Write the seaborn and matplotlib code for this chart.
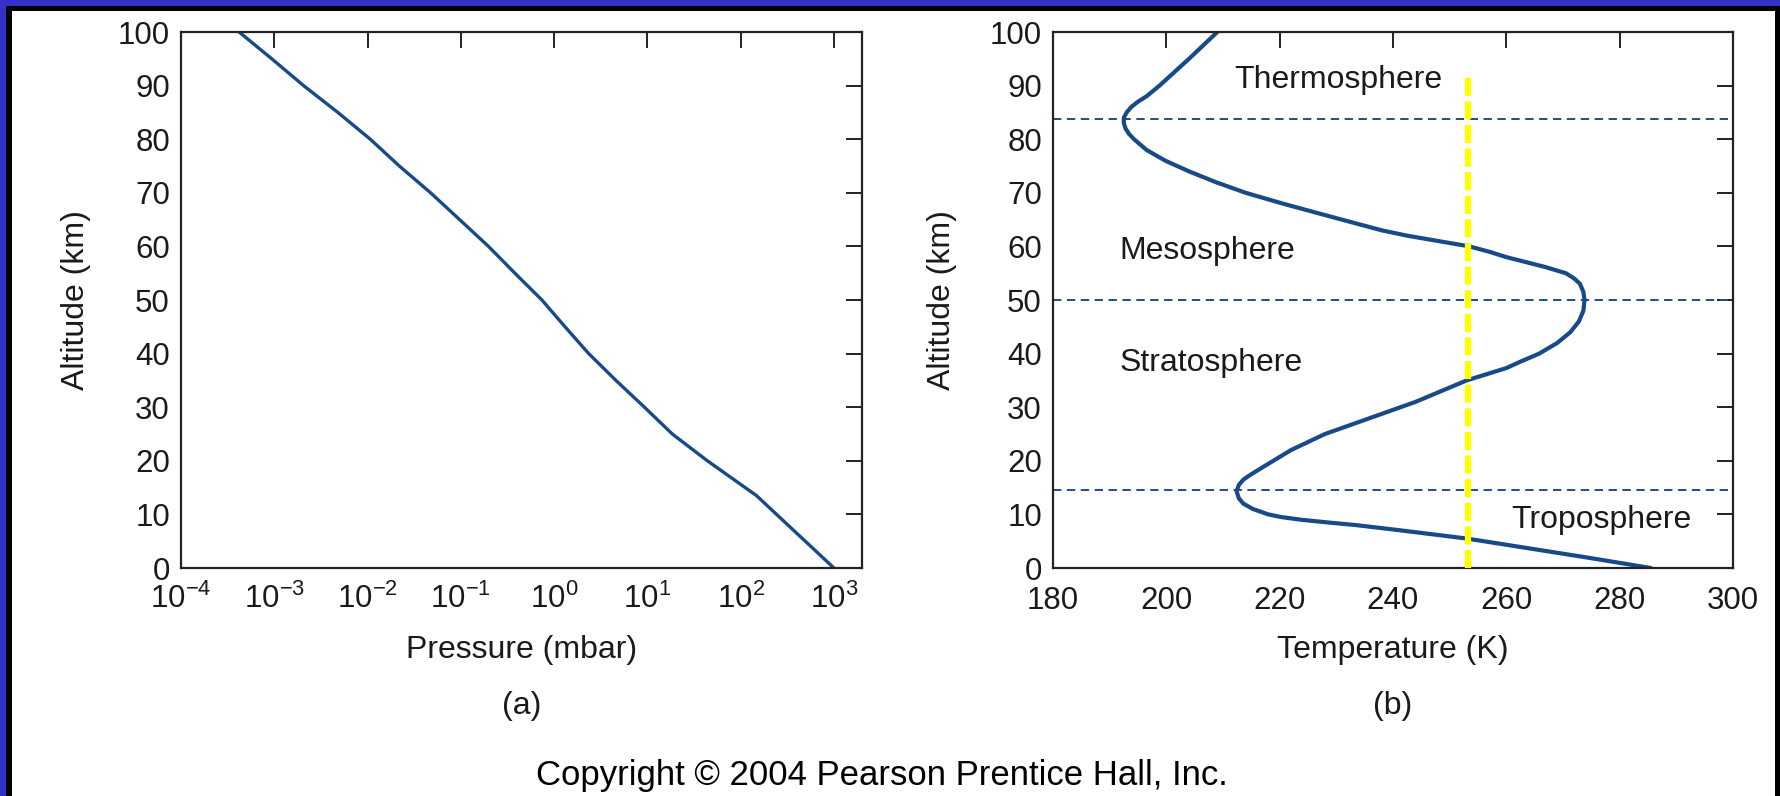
import matplotlib
matplotlib.use("Agg")
import matplotlib.pyplot as plt
import matplotlib.ticker as mticker
from matplotlib.patches import Rectangle
import seaborn as sns

# (a) pressure profile
press_alt = [0, 4, 8, 13.5, 20, 25, 30, 35, 40, 45, 50, 55, 60, 65, 70, 75,
             80, 85, 90, 95, 100]
press_mbar = [1000, 568, 322, 148, 44, 18.5, 9.3, 4.6, 2.35, 1.31, 0.74, 0.38,
              0.198, 0.097, 0.0474, 0.0219, 0.0107, 0.0048, 0.00206, 0.00094, 0.00042]

# (b) temperature profile
temp_alt = [0, 2, 4, 5.5, 7, 8, 8.5, 9, 9.5, 10, 11, 12, 13, 14.3, 15.5, 16.5, 17.5, 18.8,
            22, 25, 28, 31, 35, 37.3, 38.5, 40, 42, 44, 46, 48, 50, 51.5, 53, 54, 55, 56.2,
            58, 59, 60, 61, 62, 63, 65.5, 68, 70, 72, 74, 76, 78, 80, 81, 82, 83, 84, 85, 86,
            87, 88, 90, 95, 100]
temp_K = [285.5, 274, 262, 253, 241.5, 233.5, 228.5, 223.8, 220.3, 218, 215.3, 213.6, 212.8,
          212.4, 212.8, 213.6, 215, 217, 222, 228, 236, 244, 253, 260, 262.5, 265.8, 269,
          271.3, 272.8, 273.6, 273.8, 273.6, 273, 272, 270.5, 266.7, 260, 257, 253.5, 248,
          242.5, 238, 229.2, 220.5, 214, 208.7, 204, 199.8, 196.5, 194.3, 193.4, 192.8, 192.5,
          192.5, 193, 193.8, 195, 196.5, 198.8, 204, 209]

layer_names = ["Thermosphere", "Mesosphere", "Stratosphere", "Troposphere"]
layer_T = [212, 191.7, 191.7, 260.8]
layer_alt = [89.6, 57.6, 36.7, 7.4]
boundary_alts = [14.6, 50, 83.7]
yellow_T = 253.3
yellow_top = 92

pressure_ticks = [1e-4, 1e-3, 1e-2, 1e-1, 1e0, 1e1, 1e2, 1e3]
temp_ticks = [180, 200, 220, 240, 260, 280, 300]
alt_ticks = [0, 10, 20, 30, 40, 50, 60, 70, 80, 90, 100]

sns.set_style("white")
plt.rcParams["font.family"] = ["Liberation Sans", "DejaVu Sans"]
plt.rcParams["mathtext.fontset"] = "custom"
plt.rcParams["mathtext.rm"] = "Liberation Sans"
plt.rcParams["mathtext.it"] = "Liberation Sans"
plt.rcParams["mathtext.sf"] = "Liberation Sans"
plt.rcParams["lines.scale_dashes"] = False

W, H = 1780, 796
fig = plt.figure(figsize=(17.8, 7.96), dpi=100)
fig.patch.set_facecolor("white")

ax1 = fig.add_axes([181 / W, 1 - 568 / H, 681 / W, 536 / H])
ax2 = fig.add_axes([1053 / W, 1 - 568 / H, 680 / W, 536 / H])

curve = "#174a86"
text_c = "#1a1a1a"

sns.lineplot(x=press_mbar, y=press_alt, sort=False, estimator=None,
             color=curve, lw=2.4, ax=ax1)
ax1.set_xscale("log")
ax1.set_xlim(1e-4, 2000)
ax1.set_xticks(pressure_ticks)
ax1.xaxis.set_minor_locator(mticker.NullLocator())

sns.lineplot(x=temp_K, y=temp_alt, sort=False, estimator=None,
             color=curve, lw=3.0, ax=ax2)
ax2.set_xlim(180, 300)
ax2.set_xticks(temp_ticks)
for a in boundary_alts:
    ax2.axhline(a, color="#1f4e8c", lw=1.4, dashes=(6, 4), zorder=1)
ax2.vlines(yellow_T, 0, yellow_top, color="#ffff00", lw=4.5, linestyles=(0, (13, 4)), zorder=3)
for name, t, a in zip(layer_names, layer_T, layer_alt):
    ax2.text(t, a, name, ha="left", va="baseline", fontsize=23, color=text_c)

for ax, xpad, lab, lx, tag in [(ax1, 11, "Pressure (mbar)", -0.154, "(a)"),
                               (ax2, 13, "Temperature (K)", -0.163, "(b)")]:
    ax.set_ylim(0, 100)
    ax.set_yticks(alt_ticks)
    for s in ax.spines.values():
        s.set_color("#222222")
        s.set_linewidth(1.6)
    ax.tick_params(which="major", direction="in", length=11.5, width=1.4, color="#222222",
                   top=True, right=True, labelsize=22.5, labelcolor=text_c)
    ax.tick_params(axis="x", pad=xpad)
    ax.tick_params(axis="y", pad=8)
    ax.set_xlabel(lab, fontsize=23, color=text_c, va="center")
    ax.xaxis.set_label_coords(0.5, (568 - 650) / 536)
    ax.set_ylabel("Altitude (km)", fontsize=23, color=text_c, va="center")
    ax.yaxis.set_label_coords(lx, 0.5)
    ax.text(0.5, (568 - 706) / 536, tag, transform=ax.transAxes, ha="center", va="center",
            fontsize=23, color=text_c)

fig.text(882 / W, 1 - 776 / H, "Copyright \u00a9 2004 Pearson Prentice Hall, Inc.",
         ha="center", va="center", fontsize=25, color="black")

# slide frame: blue band top/left, black band inside it
blue = "#3232c8"
frame = [
    (0, H - 6, W, 6, blue),
    (0, 0, 6, H, blue),
    (6, H - 11, W - 6, 5, "black"),
    (6, 0, 6, H - 6, "black"),
    (W - 5, 0, 5, H - 6, "black"),
]
for x, y, w, h, c in frame:
    fig.add_artist(Rectangle((x / W, y / H), w / W, h / H, transform=fig.transFigure,
                             facecolor=c, edgecolor="none", zorder=10))

fig.savefig("out.png", dpi=100, facecolor="white")
